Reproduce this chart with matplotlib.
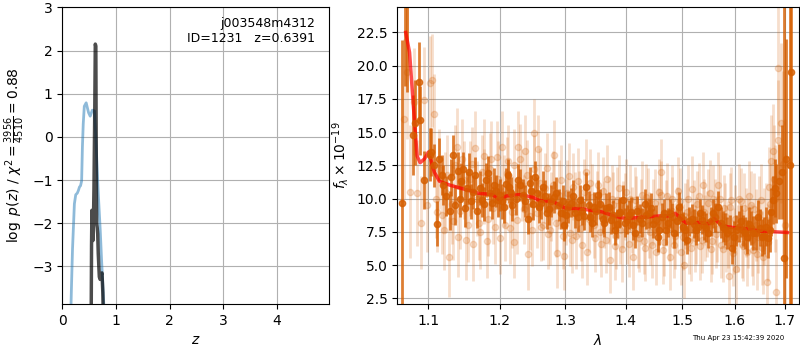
import numpy as np
import matplotlib.pyplot as plt
from matplotlib.ticker import NullLocator

# redshift fit, log p(z)
z_first = [0.150, 0.170, 0.190, 0.210, 0.225, 0.250, 0.280, 0.300, 0.320, 0.340, 0.360,
           0.375, 0.390, 0.410, 0.445, 0.470, 0.490, 0.520, 0.560, 0.600, 0.620,
           0.645, 0.670, 0.707, 0.730, 0.757, 0.790]
logp_first = [-4.5, -3.5, -2.6, -2.0, -1.55, -1.34, -1.30, -1.24, -1.16, -1.13, -1.02,
              -0.22, 0.30, 0.71, 0.79, 0.66, 0.56, 0.48, 0.62, 0.60, 0.10,
              -0.60, -1.30, -2.16, -2.80, -3.47, -4.3]
z_final = [0.535, 0.545, 0.552, 0.560, 0.570, 0.580, 0.590, 0.605, 0.615, 0.625,
           0.633, 0.640, 0.650, 0.660, 0.670, 0.690, 0.705, 0.720, 0.740, 0.755, 0.770]
logp_final = [-5.0, -2.5, -1.7, -1.9, -2.4, -2.0, -1.2, 0.6, 2.15, 2.10,
              -0.5, -2.0, -2.1, -2.25, -2.7, -3.24, -3.3, -3.2, -3.15, -3.6, -4.5]

# G141 spectrum (dark = this visit, light = other beams)
wave_d = [1.065, 1.069, 1.072, 1.079, 1.082, 1.087, 1.089, 1.094, 1.102, 1.104,
          1.111, 1.115, 1.120, 1.129, 1.133, 1.137, 1.140, 1.145, 1.150, 1.156,
          1.162, 1.167, 1.175, 1.180, 1.186, 1.192, 1.197, 1.204, 1.209, 1.214,
          1.219, 1.227, 1.235, 1.242, 1.247, 1.253, 1.259, 1.265, 1.272, 1.278,
          1.286, 1.294, 1.299, 1.305, 1.312, 1.320, 1.328, 1.334, 1.341, 1.347,
          1.353, 1.361, 1.367, 1.375, 1.381, 1.388, 1.395, 1.402, 1.409, 1.416,
          1.424, 1.433, 1.440, 1.448, 1.456, 1.463, 1.470, 1.478, 1.486, 1.494,
          1.501, 1.509, 1.518, 1.525, 1.533, 1.541, 1.549, 1.557, 1.568, 1.576,
          1.584, 1.595, 1.603, 1.612, 1.620, 1.628, 1.636, 1.645, 1.653, 1.661,
          1.669, 1.676, 1.683, 1.688, 1.694, 1.698, 1.702, 1.711, 1.714]
flux_d = [9.7, 25.5, 26.0, 14.8, 15.7, 18.8, 15.9, 11.4, 13.3, 13.5,
          8.1, 12.95, 11.0, 9.1, 13.3, 9.5, 12.1, 11.3, 9.3, 12.0,
          10.5, 9.1, 9.9, 11.4, 10.4, 11.0, 9.9, 9.8, 11.1, 10.9,
          9.5, 11.4, 10.3, 8.5, 10.6, 11.6, 9.4, 10.9, 8.9, 9.8,
          10.4, 8.9, 8.0, 9.4, 10.2, 8.6, 9.1, 10.9, 8.6, 9.4,
          10.3, 8.5, 9.3, 8.4, 7.6, 8.9, 9.9, 8.4, 9.0, 7.4,
          8.5, 9.6, 8.9, 8.1, 7.1, 8.6, 7.6, 8.9, 7.4, 9.4,
          7.9, 6.9, 8.5, 7.6, 8.9, 8.0, 7.4, 8.9, 9.4, 7.9,
          7.4, 6.3, 7.6, 8.3, 7.4, 8.1, 7.4, 8.6, 7.1, 7.9,
          7.6, 9.9, 10.4, 11.3, 12.0, 5.5, 13.0, 12.5, 19.5]
err_d = [12.2, 7.0, 8.0, 3.0, 3.2, 3.0, 2.6, 2.2, 2.0, 1.8,
         1.7, 1.6, 1.5, 1.5, 1.5, 1.5, 1.4, 1.4, 1.4, 1.4,
         1.3, 1.3, 1.3, 1.3, 1.3, 1.3, 1.3, 1.3, 1.2, 1.2,
         1.2, 1.2, 1.2, 1.2, 1.2, 1.2, 1.2, 1.2, 1.2, 1.2,
         1.2, 1.2, 1.2, 1.2, 1.2, 1.1, 1.1, 1.1, 1.1, 1.1,
         1.1, 1.1, 1.1, 1.1, 1.1, 1.1, 1.1, 1.1, 1.1, 1.1,
         1.1, 1.1, 1.1, 1.1, 1.1, 1.1, 1.1, 1.1, 1.1, 1.1,
         1.1, 1.1, 1.1, 1.1, 1.1, 1.1, 1.1, 1.1, 1.2, 1.2,
         1.2, 1.2, 1.2, 1.2, 1.2, 1.3, 1.3, 1.3, 1.4, 1.5,
         1.6, 1.8, 2.2, 2.8, 3.5, 25.0, 9.0, 15.0, 25.0]

# second dark beam
wave_d2 = [1.108, 1.118, 1.124, 1.131, 1.143, 1.148, 1.153, 1.159, 1.165, 1.171,
           1.178, 1.183, 1.189, 1.195, 1.201, 1.207, 1.212, 1.217, 1.224, 1.231,
           1.238, 1.245, 1.250, 1.256, 1.262, 1.268, 1.275, 1.282, 1.290, 1.297,
           1.302, 1.309, 1.316, 1.324, 1.331, 1.338, 1.344, 1.350, 1.357, 1.364,
           1.371, 1.378, 1.385, 1.391, 1.398, 1.405, 1.412, 1.420, 1.428, 1.436,
           1.444, 1.452, 1.459, 1.467, 1.474, 1.482, 1.490, 1.497, 1.505, 1.513,
           1.521, 1.529, 1.537, 1.545, 1.553, 1.561, 1.572, 1.580, 1.590, 1.599,
           1.608, 1.616, 1.624, 1.632, 1.641, 1.649, 1.657, 1.665, 1.672, 1.680]
flux_d2 = [12.5, 11.8, 10.2, 11.6, 10.0, 12.2, 10.8, 9.8, 11.8, 10.8,
           9.6, 11.9, 9.7, 10.6, 10.3, 9.4, 11.8, 10.4, 10.0, 11.0,
           9.8, 11.2, 9.6, 10.4, 9.7, 10.2, 9.2, 10.1, 9.5, 9.8,
           8.8, 9.7, 8.9, 9.9, 8.7, 9.5, 8.2, 9.1, 9.6, 8.2,
           9.4, 8.8, 8.1, 9.0, 8.2, 8.8, 8.0, 9.1, 8.2, 8.8,
           9.3, 8.4, 7.6, 8.9, 8.2, 8.6, 8.3, 8.6, 7.6, 8.3,
           8.1, 7.9, 8.4, 7.8, 8.3, 8.6, 8.2, 7.7, 7.6, 7.1,
           7.9, 7.6, 7.1, 7.8, 7.4, 7.8, 7.2, 7.0, 9.0, 10.8]
err_d2 = [1.6, 1.5, 1.5, 1.4, 1.4, 1.3, 1.3, 1.3, 1.3, 1.3,
          1.3, 1.3, 1.2, 1.2, 1.2, 1.2, 1.2, 1.2, 1.2, 1.2,
          1.2, 1.2, 1.2, 1.2, 1.2, 1.2, 1.2, 1.2, 1.2, 1.2,
          1.1, 1.1, 1.1, 1.1, 1.1, 1.1, 1.1, 1.1, 1.1, 1.1,
          1.1, 1.1, 1.1, 1.1, 1.1, 1.1, 1.1, 1.1, 1.1, 1.1,
          1.1, 1.1, 1.1, 1.1, 1.1, 1.1, 1.1, 1.1, 1.1, 1.1,
          1.1, 1.1, 1.1, 1.1, 1.1, 1.1, 1.2, 1.2, 1.2, 1.2,
          1.2, 1.2, 1.3, 1.3, 1.3, 1.4, 1.4, 1.5, 1.8, 2.2]

wave_l = [1.068, 1.072, 1.076, 1.081, 1.085, 1.090, 1.094, 1.098, 1.102, 1.105,
          1.107, 1.112, 1.118, 1.123, 1.128, 1.132, 1.136, 1.141, 1.146, 1.152,
          1.157, 1.162, 1.165, 1.170, 1.174, 1.178, 1.183, 1.188, 1.193, 1.198,
          1.203, 1.208, 1.213, 1.218, 1.222, 1.228, 1.233, 1.238, 1.243, 1.248,
          1.252, 1.257, 1.262, 1.268, 1.273, 1.278, 1.283, 1.288, 1.293, 1.298,
          1.303, 1.308, 1.313, 1.318, 1.323, 1.328, 1.333, 1.338, 1.343, 1.348,
          1.353, 1.358, 1.363, 1.368, 1.373, 1.378, 1.383, 1.388, 1.393, 1.398,
          1.403, 1.408, 1.413, 1.418, 1.423, 1.428, 1.433, 1.438, 1.443, 1.448,
          1.453, 1.458, 1.462, 1.467, 1.472, 1.477, 1.482, 1.487, 1.492, 1.497,
          1.503, 1.508, 1.513, 1.518, 1.523, 1.528, 1.533, 1.538, 1.543, 1.548,
          1.553, 1.558, 1.563, 1.568, 1.573, 1.578, 1.583, 1.588, 1.593, 1.598,
          1.603, 1.608, 1.613, 1.618, 1.623, 1.628, 1.633, 1.638, 1.643, 1.648,
          1.653, 1.658, 1.663, 1.668, 1.673, 1.678, 1.683, 1.687, 1.692, 1.696,
          1.700]
flux_l = [16.0, 19.5, 10.5, 17.3, 10.4, 8.2, 17.4, 9.5, 18.7, 18.9,
          16.4, 9.0, 8.8, 10.5, 5.6, 9.6, 12.5, 7.1, 13.0, 6.9,
          11.5, 6.6, 13.8, 8.2, 12.0, 13.2, 8.5, 13.0, 7.9, 11.5,
          13.9, 8.0, 12.8, 9.0, 6.7, 13.9, 11.0, 13.6, 5.8, 7.6,
          14.9, 13.7, 7.9, 10.8, 7.3, 9.4, 13.3, 5.9, 11.4, 5.7,
          10.4, 7.4, 10.9, 7.2, 9.6, 6.5, 12.0, 8.5, 10.1, 7.0,
          11.0, 6.6, 8.8, 11.5, 5.4, 9.5, 7.2, 10.8, 6.2, 9.4,
          7.6, 10.0, 5.6, 9.2, 7.0, 10.3, 6.3, 9.8, 7.5, 9.0,
          6.0, 10.5, 12.0, 6.7, 10.2, 5.6, 9.1, 7.2, 10.6, 6.0,
          5.0, 9.0, 6.8, 10.7, 7.0, 9.6, 6.4, 11.0, 7.8, 9.7,
          6.2, 10.0, 7.3, 11.0, 6.5, 9.3, 7.0, 4.2, 9.9, 6.8,
          4.7, 10.0, 6.6, 9.3, 6.0, 10.2, 6.9, 9.2, 5.8, 8.9,
          6.3, 7.9, 3.7, 10.9, 12.8, 11.5, 2.95, 19.8, 15.7, 12.6,
          8.0]
err_l = [6.0, 5.0, 5.0, 4.0, 4.0, 3.5, 4.0, 3.5, 3.5, 3.5,
         3.0, 3.0, 3.0, 3.0, 3.0, 3.0, 3.0, 3.0, 3.0, 3.0,
         2.8, 2.8, 2.8, 2.8, 2.8, 2.8, 2.8, 2.8, 2.8, 2.8,
         2.7, 2.7, 2.7, 2.7, 2.7, 2.7, 2.7, 2.7, 2.7, 2.7,
         2.6, 2.6, 2.6, 2.6, 2.6, 2.6, 2.6, 2.6, 2.6, 2.6,
         2.5, 2.5, 2.5, 2.5, 2.5, 2.5, 2.5, 2.5, 2.5, 2.5,
         2.5, 2.5, 2.5, 2.5, 2.5, 2.5, 2.5, 2.5, 2.5, 2.5,
         2.5, 2.5, 2.5, 2.5, 2.5, 2.5, 2.5, 2.5, 2.5, 2.5,
         2.5, 2.5, 2.5, 2.5, 2.5, 2.5, 2.5, 2.5, 2.5, 2.5,
         2.5, 2.5, 2.5, 2.5, 2.5, 2.5, 2.5, 2.5, 2.5, 2.5,
         2.5, 2.5, 2.5, 2.5, 2.5, 2.5, 2.5, 2.5, 2.5, 2.5,
         2.6, 2.6, 2.6, 2.6, 2.6, 2.6, 2.7, 2.7, 2.7, 2.8,
         2.8, 2.9, 3.0, 3.0, 3.5, 4.0, 4.0, 5.0, 6.0, 7.0,
         8.0]

# second light beam
wave_l2 = [1.110, 1.115, 1.121, 1.126, 1.134, 1.139, 1.144, 1.149, 1.155, 1.160,
           1.167, 1.172, 1.177, 1.181, 1.186, 1.191, 1.196, 1.201, 1.206, 1.211,
           1.216, 1.221, 1.226, 1.231, 1.236, 1.241, 1.246, 1.251, 1.256, 1.261,
           1.266, 1.271, 1.276, 1.281, 1.286, 1.291, 1.296, 1.301, 1.306, 1.311,
           1.316, 1.321, 1.326, 1.331, 1.336, 1.341, 1.346, 1.351, 1.356, 1.361,
           1.366, 1.371, 1.376, 1.381, 1.386, 1.391, 1.396, 1.401, 1.406, 1.411,
           1.416, 1.421, 1.426, 1.431, 1.436, 1.441, 1.446, 1.451, 1.456, 1.461,
           1.466, 1.471, 1.476, 1.481, 1.486, 1.491, 1.496, 1.501, 1.506, 1.511,
           1.516, 1.521, 1.526, 1.531, 1.536, 1.541, 1.546, 1.551, 1.556, 1.561,
           1.566, 1.571, 1.576, 1.581, 1.586, 1.591, 1.596, 1.601, 1.606, 1.611,
           1.616, 1.621, 1.626, 1.631, 1.636, 1.641, 1.646, 1.651, 1.656, 1.661,
           1.666, 1.671, 1.676, 1.681, 1.686]
flux_l2 = [10.0, 12.2, 7.6, 11.8, 8.3, 13.9, 9.1, 11.4, 8.0, 12.6,
           10.0, 7.5, 10.9, 6.8, 12.2, 9.3, 13.1, 7.0, 10.6, 11.9,
           7.8, 12.5, 8.4, 13.0, 9.2, 11.8, 8.7, 12.2, 8.9, 11.2,
           8.0, 12.3, 7.6, 11.0, 8.2, 10.3, 7.2, 9.0, 11.7, 6.9,
           9.5, 11.3, 7.8, 10.5, 6.0, 11.2, 8.0, 9.6, 7.5, 10.6,
           6.9, 9.1, 10.0, 6.4, 9.9, 7.6, 8.8, 10.5, 6.6, 8.4,
           9.9, 7.3, 9.0, 6.8, 10.1, 8.0, 6.5, 9.7, 8.3, 10.3,
           6.1, 8.9, 7.8, 10.0, 6.5, 8.4, 9.8, 7.1, 8.7, 10.0,
           6.3, 8.9, 7.6, 10.2, 6.9, 9.0, 8.1, 10.4, 6.8, 9.0,
           7.7, 10.0, 6.2, 8.7, 7.3, 9.4, 5.9, 8.5, 7.0, 9.8,
           6.4, 8.2, 7.4, 9.5, 6.1, 8.0, 7.1, 9.9, 5.6, 8.4,
           6.7, 9.6, 13.6, 10.0, 14.4]
err_l2 = [3.0, 3.0, 3.0, 3.0, 2.9, 2.9, 2.9, 2.9, 2.8, 2.8,
          2.8, 2.8, 2.8, 2.8, 2.7, 2.7, 2.7, 2.7, 2.7, 2.7,
          2.7, 2.7, 2.6, 2.6, 2.6, 2.6, 2.6, 2.6, 2.6, 2.6,
          2.6, 2.6, 2.6, 2.6, 2.6, 2.6, 2.5, 2.5, 2.5, 2.5,
          2.5, 2.5, 2.5, 2.5, 2.5, 2.5, 2.5, 2.5, 2.5, 2.5,
          2.5, 2.5, 2.5, 2.5, 2.5, 2.5, 2.5, 2.5, 2.5, 2.5,
          2.5, 2.5, 2.5, 2.5, 2.5, 2.5, 2.5, 2.5, 2.5, 2.5,
          2.5, 2.5, 2.5, 2.5, 2.5, 2.5, 2.5, 2.5, 2.5, 2.5,
          2.5, 2.5, 2.5, 2.5, 2.5, 2.5, 2.5, 2.5, 2.5, 2.5,
          2.5, 2.5, 2.5, 2.5, 2.5, 2.5, 2.5, 2.5, 2.5, 2.5,
          2.6, 2.6, 2.6, 2.6, 2.6, 2.7, 2.7, 2.7, 2.8, 2.8,
          2.9, 3.0, 3.5, 4.0, 4.5]

model_wave = [1.070, 1.075, 1.080, 1.085, 1.089, 1.095, 1.100, 1.103, 1.108, 1.115,
              1.130, 1.150, 1.170, 1.190, 1.200, 1.210, 1.230, 1.250, 1.260, 1.280,
              1.300, 1.330, 1.360, 1.380, 1.400, 1.430, 1.460, 1.480, 1.487, 1.507,
              1.530, 1.550, 1.560, 1.575, 1.600, 1.630, 1.650, 1.680, 1.706]
model_flux = [22.5, 21.0, 17.0, 13.2, 12.7, 13.0, 13.5, 13.0, 12.0, 11.3,
              11.0, 10.7, 10.4, 10.3, 9.9, 10.2, 10.3, 10.1, 9.85, 9.8,
              9.3, 9.2, 9.0, 8.7, 8.5, 8.6, 8.7, 8.7, 8.9, 8.15,
              8.2, 8.1, 8.5, 7.95, 7.8, 7.7, 7.55, 7.5, 7.45]

grism_color = (0.8352941176470589, 0.3686274509803922, 0.0)
wave_ticks = [1.1, 1.2, 1.3, 1.4, 1.5, 1.6, 1.7]

fig = plt.figure(figsize=(8, 3.5), dpi=100)

# --- p(z)
ax = fig.add_axes([0.0779, 0.1314, 0.3338, 0.85])
ax.plot(z_first, logp_first, color='tab:blue', alpha=0.5, lw=2)
ax.plot(z_final, logp_final, color='k', alpha=0.7, lw=2.5)
ax.set_xlim(0, 4.98)
ax.set_ylim(-3.87, 3.02)
ax.set_xlabel(r'$z$')
ax.set_ylabel(r'$\log\ p(z)$' + ' / ' + r'$\chi^2=\frac{3956}{4510}=0.88$')
ax.text(0.945, 0.965, 'j003548m4312\nID=1231   z=0.6391', ha='right', va='top',
        transform=ax.transAxes, fontsize=9)
ax.grid()

# --- spectrum
ax2 = fig.add_axes([0.4966, 0.1314, 0.502, 0.85])
for w, f, e in [(wave_l, flux_l, err_l), (wave_l2, flux_l2, err_l2)]:
    ax2.errorbar(w, f, e, color=grism_color, marker='o', ms=4.5,
                 linestyle='None', alpha=0.2, elinewidth=2)
for w, f, e in [(wave_d, flux_d, err_d), (wave_d2, flux_d2, err_d2)]:
    ax2.errorbar(w, f, e, color=grism_color, marker='o', ms=4.5,
                 linestyle='None', alpha=0.8, elinewidth=2)
ax2.plot(model_wave, model_flux, color='r', alpha=0.7, lw=2.5)
ax2.set_xscale('log')
ax2.set_xticks(wave_ticks)
ax2.set_xticklabels(['{0:.1f}'.format(t) for t in wave_ticks])
ax2.xaxis.set_minor_locator(NullLocator())
ax2.set_xlim(1.059, 1.73)
ax2.set_ylim(2.07, 24.45)
ax2.set_xlabel(r'$\lambda$')
ax2.set_ylabel(r'$f_\lambda\times10^{-19}$')
ax2.grid()

fig.text(0.981, 0.034, 'Thu Apr 23 15:42:39 2020', ha='right', va='center', fontsize=5)

fig.savefig('out.png', dpi=100)
